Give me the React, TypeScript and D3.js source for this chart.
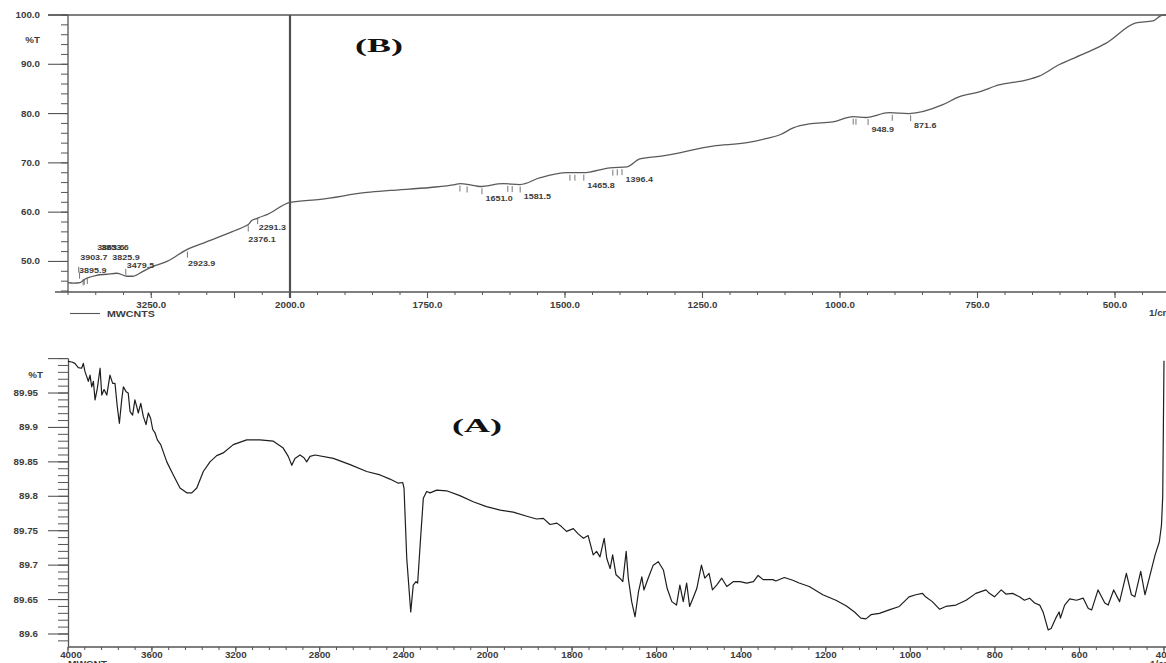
import React, { useEffect, useRef } from "react";
import * as d3 from "d3";

const W = 1166;
const H = 663;

// ---------- panel (B): %T vs wavenumber ----------
const spectrumB: [number, number][] = [
  [4000, 45.7], [3950, 45.6], [3892, 45.7], [3860, 46.2], [3829, 46.6], [3739, 47.2],
  [3649, 47.4], [3559, 47.6], [3468, 47.0], [3414, 47.0], [3324, 48.0], [3234, 49.0],
  [3108, 50.0], [2946, 52.2], [2748, 54.0], [2514, 56.1], [2400, 57.2], [2376, 57.5],
  [2345, 58.3], [2300, 58.7], [2280, 58.9], [2207, 59.5], [2000, 62.0], [1945, 62.6],
  [1860, 64.0], [1818, 64.4], [1745, 65.0], [1700, 65.6], [1691, 65.8], [1670, 65.5],
  [1655, 65.2], [1613, 65.8], [1582, 65.6], [1545, 67.0], [1496, 68.0], [1467, 68.0],
  [1418, 69.0], [1387, 69.2], [1364, 70.8], [1322, 71.4], [1231, 73.4], [1169, 74.1],
  [1135, 74.9], [1109, 75.7], [1085, 77.1], [1056, 77.9], [1013, 78.3], [976, 79.4],
  [953, 79.2], [911, 80.2], [875, 80.0], [813, 81.8], [784, 83.4], [747, 84.4],
  [711, 85.8], [662, 86.8], [638, 87.6], [602, 89.9], [553, 92.3], [516, 94.3],
  [462, 98.4], [431, 98.8], [413, 100.0], [400, 100.0],
];
const peaksB = [3903.7, 3895.9, 3863.6, 3853.6, 3825.9, 3479.5, 2923.9, 2376.1, 2291.3,
  1651.0, 1581.5, 1465.8, 1396.4, 948.9, 871.6];
const unlabelledPeaksB = [1691, 1678, 1604, 1596, 1491, 1482, 1413, 1405, 976, 971, 905];
const yTicksB = [50, 60, 70, 80, 90, 100];
const xLabelsB = [3250, 2000, 1750, 1500, 1250, 1000, 750, 500];

// ---------- panel (A) ----------
const spectrumA: [number, number][] = [
  [4000, 89.996], [3982, 89.995], [3967, 89.993], [3951, 89.987], [3935, 89.986], [3927, 89.993],
  [3919, 89.981], [3903, 89.967], [3895, 89.976], [3887, 89.959], [3879, 89.967], [3871, 89.940],
  [3860, 89.957], [3847, 89.986], [3839, 89.947], [3828, 89.955], [3815, 89.947], [3800, 89.976],
  [3787, 89.964], [3776, 89.964], [3765, 89.930], [3755, 89.906], [3744, 89.940], [3736, 89.959],
  [3723, 89.952], [3713, 89.950], [3704, 89.923], [3692, 89.918], [3681, 89.940], [3672, 89.930],
  [3665, 89.921], [3653, 89.935], [3641, 89.916], [3628, 89.904], [3617, 89.921], [3606, 89.913],
  [3596, 89.897], [3585, 89.892], [3574, 89.882], [3558, 89.875], [3529, 89.850], [3498, 89.831],
  [3466, 89.812], [3434, 89.805], [3410, 89.805], [3386, 89.812], [3355, 89.836], [3323, 89.850],
  [3291, 89.859], [3260, 89.863], [3212, 89.875], [3148, 89.882], [3085, 89.882], [3021, 89.880],
  [2974, 89.870], [2950, 89.858], [2933, 89.845], [2918, 89.855], [2894, 89.860], [2875, 89.856],
  [2862, 89.850], [2846, 89.858], [2822, 89.860], [2735, 89.855], [2655, 89.846], [2576, 89.836],
  [2512, 89.831], [2465, 89.825], [2425, 89.819], [2404, 89.820], [2398, 89.812], [2385, 89.710],
  [2366, 89.632], [2354, 89.671], [2341, 89.676], [2333, 89.674], [2319, 89.739], [2306, 89.797],
  [2290, 89.807], [2274, 89.805], [2242, 89.809], [2195, 89.808], [2132, 89.801], [2068, 89.792],
  [2005, 89.785], [1970, 89.780], [1939, 89.777], [1907, 89.771], [1884, 89.767], [1868, 89.768],
  [1852, 89.759], [1836, 89.761], [1825, 89.756], [1813, 89.749], [1797, 89.753], [1785, 89.745],
  [1773, 89.739], [1762, 89.743], [1750, 89.715], [1742, 89.720], [1734, 89.712], [1724, 89.739],
  [1718, 89.710], [1710, 89.695], [1704, 89.715], [1696, 89.686], [1687, 89.681], [1680, 89.676],
  [1672, 89.720], [1667, 89.681], [1659, 89.647], [1651, 89.625], [1643, 89.661], [1635, 89.683],
  [1630, 89.664], [1620, 89.681], [1608, 89.700], [1596, 89.705], [1584, 89.693], [1575, 89.666],
  [1564, 89.647], [1553, 89.642], [1545, 89.671], [1537, 89.647], [1529, 89.674], [1522, 89.640],
  [1514, 89.652], [1505, 89.666], [1494, 89.700], [1486, 89.681], [1476, 89.688], [1468, 89.664],
  [1458, 89.671], [1446, 89.681], [1434, 89.669], [1419, 89.676], [1403, 89.676], [1387, 89.674],
  [1371, 89.676], [1360, 89.685], [1348, 89.679], [1325, 89.679], [1318, 89.677], [1298, 89.682],
  [1278, 89.678], [1263, 89.674], [1239, 89.669], [1207, 89.657], [1176, 89.649], [1152, 89.641],
  [1132, 89.632], [1117, 89.623], [1105, 89.622], [1093, 89.628], [1073, 89.630], [1050, 89.635],
  [1026, 89.640], [1003, 89.654], [987, 89.657], [971, 89.659], [964, 89.654], [948, 89.647],
  [931, 89.636], [916, 89.640], [892, 89.642], [868, 89.649], [845, 89.659], [821, 89.664],
  [813, 89.659], [801, 89.654], [785, 89.664], [774, 89.658], [758, 89.659], [742, 89.654],
  [730, 89.649], [718, 89.652], [706, 89.645], [694, 89.642], [686, 89.632], [674, 89.606],
  [667, 89.608], [656, 89.623], [648, 89.632], [645, 89.623], [635, 89.642], [623, 89.651],
  [607, 89.649], [591, 89.652], [579, 89.637], [571, 89.635], [556, 89.664], [540, 89.645],
  [532, 89.642], [519, 89.664], [505, 89.647], [489, 89.688], [477, 89.657], [469, 89.654],
  [455, 89.691], [445, 89.657], [437, 89.676], [421, 89.715], [411, 89.734], [406, 89.758],
  [403, 89.80], [401.5, 89.90], [400, 89.997],
];
const yTicksA = [89.6, 89.65, 89.7, 89.75, 89.8, 89.85, 89.9, 89.95];
const yLabelsA = ["89.6", "89.65", "89.7", "89.75", "89.8", "89.85", "89.9", "89.95"];
const xTicksA = [4000, 3600, 3200, 2800, 2400, 2000, 1800, 1600, 1400, 1200, 1000, 800, 600, 400];

const SANS = "'Liberation Sans', Arial, sans-serif";
const SERIF = "'Liberation Serif', 'Times New Roman', serif";
const INK = "#3c3c3c";

// peak label placement [dx from marker, dy from trace, marker offset]
const labelNudge: Record<string, [number, number, number]> = {
  "3903.7": [1.5, -23, -16],
  "3895.9": [-0.5, -10, -10],
  "3863.6": [14, -30, -1],
  "3853.6": [17, -30, -1],
  "3825.9": [25, -18, 0],
  "3479.5": [1, -8, -7],
  "2923.9": [0.5, 16, 2],
  "2376.1": [0, 18, 1],
  "2291.3": [1, 12, 0],
};

function valueAt(spec: [number, number][], wn: number) {
  for (let i = 0; i < spec.length - 1; i++) {
    const [a, va] = spec[i];
    const [b, vb] = spec[i + 1];
    if (wn <= a && wn >= b) return va + ((a - wn) / (a - b)) * (vb - va);
  }
  return spec[spec.length - 1][1];
}

function txt(g: any, x: number, y: number, s: string, o: any = {}) {
  return g.append("text")
    .attr("transform", `translate(${x},${y}) scale(${o.sx ?? 1.15},1)`)
    .attr("text-anchor", o.anchor ?? "middle")
    .style("font-family", o.family ?? SANS)
    .style("font-size", (o.size ?? 8.5) + "px")
    .style("font-weight", o.weight ?? "bold")
    .style("fill", o.fill ?? INK)
    .text(s);
}

function line(g: any, x1: number, y1: number, x2: number, y2: number, w = 1.2, c = "#555") {
  g.append("line").attr("x1", x1).attr("y1", y1).attr("x2", x2).attr("y2", y2)
    .attr("stroke", c).attr("stroke-width", w);
}

function App() {
  const ref = useRef<SVGSVGElement | null>(null);

  useEffect(() => {
    const svg = d3.select(ref.current);
    svg.selectAll("*").remove();

    // ================= (B) =================
    const gB = svg.append("g");
    const xB = d3.scaleLinear().domain([4000, 2000, 400]).range([68, 290, 1170]);
    const yB = d3.scaleLinear().domain([43.8, 100]).range([292, 15]);
    const bTop = yB(100), bBot = yB(43.8);

    line(gB, 48, bTop, W, bTop, 1.3);
    line(gB, 68, bTop, 68, bBot, 1.3);
    line(gB, 55, bBot, W, bBot, 1.3);

    d3.range(44, 100.1, 2).forEach(v => line(gB, 61, yB(v), 68, yB(v), 1));
    yTicksB.forEach(v => {
      line(gB, 48, yB(v), 68, yB(v), 1.1);
      txt(gB, 40, yB(v) + 3, v.toFixed(1), { anchor: "end" });
    });
    txt(gB, 40, 43, "%T", { anchor: "end" });

    const minorB = d3.range(4000, 1999, -250).concat(d3.range(1950, 399, -50));
    minorB.forEach(v => line(gB, xB(v), bBot, xB(v), bBot + 3, 1));
    [3250, 2500, 1750, 1500, 1250, 1000, 750, 500].forEach(v =>
      line(gB, xB(v), bBot, xB(v), bBot + 6, 1.1));
    xLabelsB.forEach(v => txt(gB, xB(v), bBot + 16, v.toFixed(1)));
    txt(gB, 1149, bBot + 24, "1/cm", { anchor: "start" });

    // split marker at 2000
    line(gB, xB(2000), bTop, xB(2000), bBot + 6, 2.2, "#505050");

    const lineB = d3.line<[number, number]>()
      .x(d => xB(d[0])).y(d => yB(d[1]))
      .curve(d3.curveMonotoneX);
    gB.append("path").attr("d", lineB(spectrumB)).attr("fill", "none")
      .attr("stroke", "#5a5a5a").attr("stroke-width", 1.3);

    unlabelledPeaksB.forEach(wn => {
      const x = xB(wn), cy = yB(valueAt(spectrumB, wn));
      line(gB, x, cy + 2, x, cy + 8, 0.9, "#666");
    });
    peaksB.forEach(wn => {
      const s = wn.toFixed(1);
      const [dx, dy, m] = labelNudge[s] ?? [3.5, 15, 2];
      const x = xB(wn), cy = yB(valueAt(spectrumB, wn));
      line(gB, x, cy + m, x, cy + m + 6, 0.9, "#666");
      txt(gB, x + dx, cy + dy, s, { anchor: "start", size: 8, sx: 1.12 });
    });

    line(gB, 70, 313.5, 100, 313.5, 1.1, "#555");
    txt(gB, 107, 317, "MWCNTS", { anchor: "start", sx: 1.25 });

    txt(gB, 379, 52, "(B)", { family: SERIF, size: 18, sx: 2.0, fill: "#111" });

    // ================= (A) =================
    const gA = svg.append("g");
    const xA = d3.scaleLinear().domain([4000, 2000, 400]).range([68, 487.5, 1164]);
    const yA = d3.scaleLinear().domain([89.5811, 89.9965]).range([647, 361]);
    const aBot = yA(89.5811);

    line(gA, 68.5, yA(90), 68.5, aBot, 1.3);
    line(gA, 68, aBot, W, aBot, 1.3);

    d3.range(0, 42).map(i => 89.59 + i * 0.01).forEach(v => line(gA, 58, yA(v), 68, yA(v), 1));
    line(gA, 48, yA(90), 68, yA(90), 1.1);
    yTicksA.forEach((v, i) => {
      line(gA, 48, yA(v), 68, yA(v), 1.1);
      txt(gA, 38, yA(v) + 3, yLabelsA[i], { anchor: "end" });
    });
    txt(gA, 43, 378, "%T", { anchor: "end" });

    const minorA = d3.range(4000, 2000, -80).concat(d3.range(2000, 399, -40));
    minorA.forEach(v => line(gA, xA(v), aBot, xA(v), aBot + 3, 1));
    xTicksA.forEach(v => {
      line(gA, xA(v), aBot, xA(v), aBot + 5, 1.1);
      txt(gA, xA(v) + (v === 4000 ? 3 : 0), aBot + 11, String(v));
    });
    txt(gA, 68, 667, "MWCNT", { anchor: "start", sx: 1.2 });
    txt(gA, 1150, 667, "1/cm", { anchor: "start" });

    const lineA = d3.line<[number, number]>().x(d => xA(d[0])).y(d => yA(d[1]));
    gA.append("path").attr("d", lineA(spectrumA)).attr("fill", "none")
      .attr("stroke", "#1e1e1e").attr("stroke-width", 1.2).attr("stroke-linejoin", "round");

    txt(gA, 477, 432, "(A)", { family: SERIF, size: 18, sx: 2.0, fill: "#111" });
  }, []);

  return (
    <svg ref={ref} width={W} height={H}
      style={{ position: "absolute", left: 0, top: 0, background: "#fff" }} />
  );
}

export default App;
